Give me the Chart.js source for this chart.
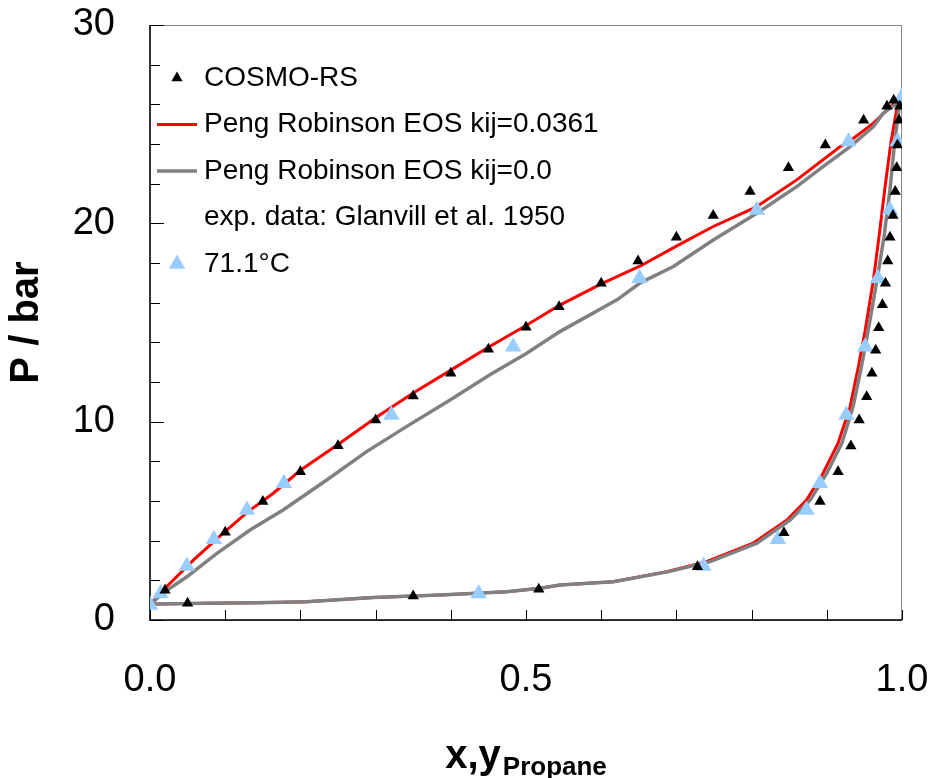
<!DOCTYPE html>
<html>
<head>
<meta charset="utf-8">
<script src="https://cdn.jsdelivr.net/npm/chart.js@4/dist/chart.umd.min.js"></script>
<style>
  html, body { margin: 0; padding: 0; background: #fff; }
  #wrap { width: 933px; height: 778px; position: relative; }
</style>
</head>
<body>
<div id="wrap"><canvas id="vleChart"></canvas></div>
<script>
// COSMO-RS predictions (bubble branch then dew branch)
const cosmoX = [0.02, 0.10, 0.15, 0.20, 0.25, 0.30, 0.35, 0.40, 0.45, 0.50, 0.544, 0.60, 0.649, 0.70, 0.749, 0.798, 0.849, 0.898, 0.949, 0.98, 0.989,
                0.05, 0.35, 0.517, 0.728, 0.843, 0.891, 0.915, 0.932, 0.943, 0.953, 0.960, 0.965, 0.969, 0.974, 0.978, 0.981, 0.984, 0.988, 0.991, 0.993, 0.994, 0.996, 0.997];
const cosmoP = [1.5, 4.42, 5.97, 7.48, 8.79, 10.09, 11.3, 12.44, 13.65, 14.76, 15.8, 16.98, 18.1, 19.3, 20.4, 21.6, 22.8, 23.95, 25.2, 25.9, 26.2,
                0.84, 1.21, 1.55, 2.69, 4.40, 5.97, 7.48, 8.77, 10.09, 11.26, 12.44, 13.6, 14.74, 15.9, 16.98, 18.1, 19.3, 20.4, 21.6, 22.8, 23.95, 25.2, 25.9];

// Peng Robinson EOS kij=0.0361
const pr1X = [0.0, 0.02, 0.058, 0.097, 0.13, 0.164, 0.20, 0.25, 0.30, 0.35, 0.40, 0.45, 0.50, 0.545, 0.60, 0.652, 0.70, 0.749, 0.805, 0.86, 0.918, 0.929, 0.962, 0.988, 1.0,
              0.995, 0.985, 0.977, 0.97, 0.962, 0.951, 0.942, 0.931, 0.915, 0.895, 0.873, 0.847, 0.802, 0.74, 0.687, 0.616, 0.545, 0.519, 0.474, 0.386, 0.297, 0.208, 0.142, 0.075, 0.009, 0.0];
const pr1P = [0.78, 1.6, 3.03, 4.37, 5.45, 6.39, 7.55, 8.85, 10.2, 11.45, 12.6, 13.75, 14.85, 15.88, 16.95, 17.85, 18.85, 19.84, 20.8, 22.19, 23.87, 24.1, 25.05, 26.0, 26.35,
              26.2, 24.0, 21.7, 19.5, 17.15, 14.6, 12.77, 10.76, 8.91, 7.4, 6.05, 5.04, 3.87, 2.94, 2.44, 1.93, 1.76, 1.6, 1.43, 1.26, 1.14, 0.92, 0.87, 0.84, 0.81, 0.78];

// Peng Robinson EOS kij=0.0
const pr0X = [0.0, 0.02, 0.049, 0.089, 0.133, 0.177, 0.235, 0.288, 0.341, 0.399, 0.452, 0.501, 0.545, 0.621, 0.652, 0.696, 0.749, 0.807, 0.86, 0.895, 0.931, 0.962, 0.975, 0.993, 1.0,
              0.997, 0.99, 0.984, 0.976, 0.966, 0.955, 0.946, 0.935, 0.92, 0.90, 0.878, 0.851, 0.807, 0.745, 0.69, 0.616, 0.545, 0.519, 0.474, 0.386, 0.297, 0.208, 0.142, 0.075, 0.009, 0.0];
const pr0P = [0.78, 1.43, 2.18, 3.36, 4.54, 5.55, 7.06, 8.49, 9.75, 11.09, 12.36, 13.45, 14.54, 16.14, 17.0, 17.82, 19.16, 20.51, 21.85, 22.86, 23.87, 24.88, 25.55, 26.05, 26.3,
              26.1, 24.0, 21.7, 19.3, 16.98, 14.6, 12.77, 10.76, 8.91, 7.4, 6.05, 5.04, 3.87, 2.94, 2.44, 1.93, 1.76, 1.6, 1.43, 1.26, 1.14, 0.92, 0.87, 0.84, 0.81, 0.78];

// exp. data: Glanvill et al. 1950, 71.1°C
const expX = [0.0, 0.014, 0.049, 0.085, 0.129, 0.178, 0.321, 0.483, 0.651, 0.807, 0.929, 1.0,
              0.437, 0.736, 0.835, 0.873, 0.891, 0.926, 0.951, 0.968, 0.984, 0.994];
const expP = [0.76, 1.34, 2.72, 4.07, 5.55, 6.89, 10.34, 13.78, 17.23, 20.67, 24.12, 26.4,
              1.34, 2.72, 4.07, 5.55, 6.89, 10.34, 13.78, 17.23, 20.67, 24.12];

const xTickStep = 0.1;
const yTickStep = 2;

function toPoints(xs, ys) {
    return xs.map((v, i) => ({ x: v, y: ys[i] }));
}

Chart.defaults.font.family = "'Liberation Sans', Arial, sans-serif";
Chart.defaults.color = '#000';

// frame and inward tick marks
const framePlugin = {
    id: 'frame',
    beforeDatasetsDraw(chart) {
        const { ctx, chartArea: a, scales: { x, y } } = chart;
        ctx.save();
        ctx.strokeStyle = '#888';
        ctx.lineWidth = 1;
        ctx.strokeRect(a.left, a.top + 0.5, a.right - a.left - 0.5, a.bottom - a.top);
        ctx.strokeStyle = '#000';
        ctx.lineWidth = 1.5;
        ctx.beginPath();
        ctx.moveTo(a.left, a.top);
        ctx.lineTo(a.left, a.bottom);
        ctx.lineTo(a.right, a.bottom);
        ctx.stroke();
        ctx.lineWidth = 1;
        ctx.beginPath();
        for (let i = 0; i * xTickStep <= x.max + 1e-9; i++) {
            const px = Math.round(x.getPixelForValue(i * xTickStep)) + 0.5;
            ctx.moveTo(px, a.bottom);
            ctx.lineTo(px, a.bottom - 10);
        }
        for (let i = 0; i * yTickStep <= y.max + 1e-9; i++) {
            const v = i * yTickStep;
            const py = Math.round(y.getPixelForValue(v)) + 0.5;
            ctx.moveTo(a.left, py);
            ctx.lineTo(a.left + (v % 10 === 0 ? 14 : 10), py);
        }
        ctx.stroke();
        ctx.restore();
    }
};

// legend inside the plot area, and axis titles
const labelsPlugin = {
    id: 'labels',
    afterDraw(chart) {
        const { ctx, chartArea: a } = chart;
        ctx.save();
        ctx.fillStyle = '#000';
        ctx.textBaseline = 'middle';
        ctx.font = "28px 'Liberation Sans', Arial, sans-serif";
        let ly = a.top + 53;
        chart.data.datasets.forEach(ds => {
            const mx = a.left + 27;
            if (ds.pointStyle === 'triangle' && !ds.showLine) {
                const r = ds.pointRadius;
                ctx.fillStyle = ds.backgroundColor;
                ctx.beginPath();
                ctx.moveTo(mx, ly - r);
                ctx.lineTo(mx + r * 0.866, ly + r * 0.5);
                ctx.lineTo(mx - r * 0.866, ly + r * 0.5);
                ctx.closePath();
                ctx.fill();
            } else if (ds.showLine) {
                ctx.strokeStyle = ds.borderColor;
                ctx.lineWidth = ds.borderWidth;
                ctx.beginPath();
                ctx.moveTo(a.left + 7, ly);
                ctx.lineTo(a.left + 47, ly);
                ctx.stroke();
            }
            ctx.fillStyle = '#000';
            ctx.textAlign = 'left';
            ctx.fillText(ds.label, a.left + 54, ly);
            ly += 46.5;
        });

        // y title
        ctx.save();
        ctx.translate(27, (a.top + a.bottom) / 2);
        ctx.rotate(-Math.PI / 2);
        ctx.textAlign = 'center';
        ctx.font = "bold 40px 'Liberation Sans', Arial, sans-serif";
        ctx.fillText('P / bar', 0, 0);
        ctx.restore();

        // x title with subscript
        ctx.textBaseline = 'alphabetic';
        ctx.textAlign = 'left';
        const mainFont = "bold 40px 'Liberation Sans', Arial, sans-serif";
        const subFont = "bold 26px 'Liberation Sans', Arial, sans-serif";
        ctx.font = mainFont;
        const w1 = ctx.measureText('x,y').width;
        ctx.font = subFont;
        const w2 = ctx.measureText('Propane').width;
        const sx = (a.left + a.right) / 2 - (w1 + 2 + w2) / 2;
        ctx.font = mainFont;
        ctx.fillText('x,y', sx, 768);
        ctx.font = subFont;
        ctx.fillText('Propane', sx + w1 + 2, 775);
        ctx.restore();
    }
};

const ctx = document.getElementById('vleChart').getContext('2d');
new Chart(ctx, {
    type: 'scatter',
    data: {
        datasets: [
            {
                label: 'COSMO-RS',
                data: toPoints(cosmoX, cosmoP),
                pointStyle: 'triangle',
                pointRadius: 6.5,
                backgroundColor: '#000',
                borderColor: '#000',
                borderWidth: 0,
                showLine: false,
                order: 1
            },
            {
                label: 'Peng Robinson EOS kij=0.0361',
                data: toPoints(pr1X, pr1P),
                showLine: true,
                borderColor: '#ff0000',
                borderWidth: 3,
                pointRadius: 0,
                tension: 0,
                order: 4
            },
            {
                label: 'Peng Robinson EOS kij=0.0',
                data: toPoints(pr0X, pr0P),
                showLine: true,
                borderColor: '#808080',
                borderWidth: 3.5,
                pointRadius: 0,
                tension: 0,
                order: 3
            },
            {
                label: 'exp. data: Glanvill et al. 1950',
                data: [],
                showLine: false,
                pointRadius: 0
            },
            {
                label: '71.1°C',
                data: toPoints(expX, expP),
                pointStyle: 'triangle',
                pointRadius: 9.5,
                backgroundColor: '#99ccff',
                borderColor: '#99ccff',
                borderWidth: 0,
                showLine: false,
                order: 2
            }
        ]
    },
    options: {
        responsive: true,
        maintainAspectRatio: false,
        animation: false,
        layout: { padding: { top: 25, right: 31, left: 0, bottom: 0 } },
        plugins: {
            legend: { display: false },
            tooltip: { enabled: false }
        },
        scales: {
            x: {
                type: 'linear',
                min: 0,
                max: 1,
                grid: { display: false, drawTicks: false },
                border: { display: false },
                ticks: {
                    stepSize: 0.5,
                    padding: 38,
                    font: { size: 38 },
                    callback: v => v.toFixed(1)
                },
                afterFit: s => {
                    s.height = 158;
                    s.paddingLeft = 0;
                    s.paddingRight = 0;
                }
            },
            y: {
                min: 0,
                max: 30,
                grid: { display: false, drawTicks: false },
                border: { display: false },
                ticks: {
                    stepSize: 10,
                    padding: 35,
                    font: { size: 38 }
                },
                afterFit: s => {
                    s.width = 150;
                    s.paddingTop = 0;
                    s.paddingBottom = 0;
                }
            }
        }
    },
    plugins: [framePlugin, labelsPlugin]
});
</script>
</body>
</html>
